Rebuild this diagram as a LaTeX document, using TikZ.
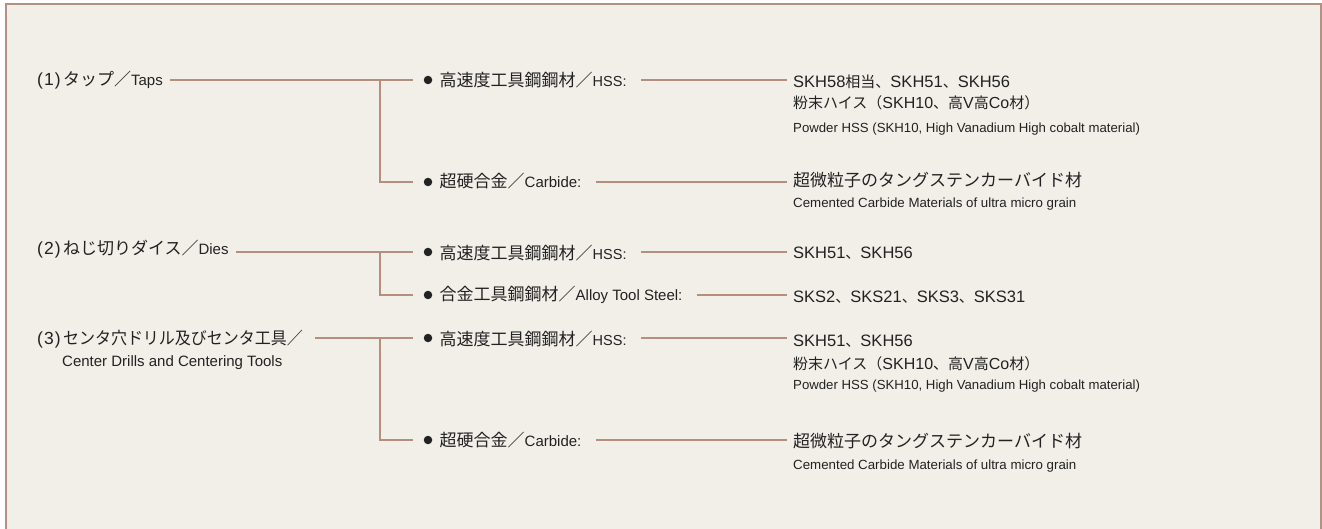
\documentclass[tikz,border=0pt]{standalone}
\usepackage{fontspec}
\setmainfont{Liberation Sans}
\newfontfamily\jpf{Noto Sans CJK JP}
\usetikzlibrary{calc}
\definecolor{bgc}{HTML}{F2EFE9}
\definecolor{frc}{HTML}{B39283}
\definecolor{lnc}{HTML}{B58F7D}
\definecolor{txc}{HTML}{222222}
\newcommand\J[2][17]{{\jpf\fontsize{#1}{#1}\selectfont #2}}
\newcommand\E[2][15]{{\fontsize{#1}{#1}\selectfont #2}}
\newcommand\NUM[1]{\E[17.5]{(\kern1pt#1\kern1pt)}\kern2.5pt}
\begin{document}
\begin{tikzpicture}[x=1pt,y=-1pt,
  txt/.style={anchor=base west,inner sep=0pt,text=txc},
  conn/.style={draw=lnc,line width=1.4pt},
  bul/.style={circle,fill=txc,inner sep=0pt,minimum size=8.5pt},
  frame/.style={draw=frc,line width=2pt,line join=miter}]
\useasboundingbox (0,0) rectangle (1322,529);
\fill[white] (0,0) rectangle (1322,529);
\fill[bgc] (6,4) rectangle (1321,529);
\draw[frame] (6,530) -- (6,4) -- (1321,4) -- (1321,530);
% branch x
\coordinate (k) at (380,0);
% ---------- row 1
\node[bul] (b11) at (428,80) {};
\node[bul] (b12) at (428,182) {};
\node[txt] (taps) at (37,85.5) {\NUM{1}\J{タップ／}\E{Taps}};
\node[txt] (hss1) at (439.5,86.7) {\J{高速度工具鋼鋼材／}\E[14.5]{HSS:}};
\node[txt] (carb1) at (439.5,187.7) {\J{超硬合金／}\E{Carbide:}};
\node[txt] (r1a) at (793,87.3) {\E[16.5]{SKH58}\J[15]{相当、}\E[16.5]{SKH51}\J[15]{、}\E[16.5]{SKH56}};
\node[txt] (r1b) at (793,108.3) {\J[15]{粉末ハイス（}\E[16]{SKH10}\J[15]{、高}\E[16]{V}\J[15]{高}\E[16]{Co}\J[15]{材）}};
\node[txt] (r1c) at (793,133) {\E[13.2]{Powder HSS (SKH10, High Vanadium High cobalt material)}};
\node[txt] (r1d) at (793,187) {\J[17]{超微粒子のタングステンカーバイド材}};
\node[txt] (r1e) at (793,207.7) {\E[13.3]{Cemented Carbide Materials of ultra micro grain}};
% ---------- row 2
\node[bul] (b21) at (428,252) {};
\node[bul] (b22) at (428,295) {};
\node[txt] (dies) at (37,255) {\NUM{2}\J{ねじ切りダイス／}\E{Dies}};
\node[txt] (hss2) at (439.5,259.5) {\J{高速度工具鋼鋼材／}\E[14.5]{HSS:}};
\node[txt] (alloy) at (439.5,300.7) {\J{合金工具鋼鋼材／}\E{Alloy Tool Steel:}};
\node[txt] (r2a) at (793,258.8) {\E[16.5]{SKH51}\J[15]{、}\E[16.5]{SKH56}};
\node[txt] (r2b) at (793,302.5) {\E[16.5]{SKS2}\J[15]{、}\E[16.5]{SKS21}\J[15]{、}\E[16.5]{SKS3}\J[15]{、}\E[16.5]{SKS31}};
% ---------- row 3
\node[bul] (b31) at (428,338) {};
\node[bul] (b32) at (428,440) {};
\node[txt] (ctr) at (37,344) {\NUM{3}\scalebox{0.94}[1]{\J{センタ穴ドリル及びセンタ工具／}}};
\node[txt] (ctrE) at (62,366) {\E{Center Drills and Centering Tools}};
\node[txt] (hss3) at (439.5,345) {\J{高速度工具鋼鋼材／}\E[14.5]{HSS:}};
\node[txt] (carb3) at (439.5,446.7) {\J{超硬合金／}\E{Carbide:}};
\node[txt] (r3a) at (793,346) {\E[16.5]{SKH51}\J[15]{、}\E[16.5]{SKH56}};
\node[txt] (r3b) at (793,369) {\J[15]{粉末ハイス（}\E[16]{SKH10}\J[15]{、高}\E[16]{V}\J[15]{高}\E[16]{Co}\J[15]{材）}};
\node[txt] (r3c) at (793,389.5) {\E[13.2]{Powder HSS (SKH10, High Vanadium High cobalt material)}};
\node[txt] (r3d) at (793,447) {\J[17]{超微粒子のタングステンカーバイド材}};
\node[txt] (r3e) at (793,469.3) {\E[13.3]{Cemented Carbide Materials of ultra micro grain}};
% ---------- connectors
\draw[conn] ($(taps.east |- b11)+(7,0)$) -- ($(b11.west)+(-11,0)$);
\draw[conn] (k |- b11) |- ($(b12.west)+(-11,0)$);
\draw[conn] ($(hss1.east |- b11)+(14,0)$) -- ($(r1a.west |- b11)+(-6,0)$);
\draw[conn] ($(carb1.east |- b12)+(14,0)$) -- ($(r1d.west |- b12)+(-6,0)$);
\draw[conn] ($(dies.east |- b21)+(7,0)$) -- ($(b21.west)+(-11,0)$);
\draw[conn] (k |- b21) |- ($(b22.west)+(-11,0)$);
\draw[conn] ($(hss2.east |- b21)+(14,0)$) -- ($(r2a.west |- b21)+(-6,0)$);
\draw[conn] ($(alloy.east |- b22)+(14,0)$) -- ($(r2b.west |- b22)+(-6,0)$);
\draw[conn] ($(ctr.east |- b31)+(12,0)$) -- ($(b31.west)+(-11,0)$);
\draw[conn] (k |- b31) |- ($(b32.west)+(-11,0)$);
\draw[conn] ($(hss3.east |- b31)+(14,0)$) -- ($(r3a.west |- b31)+(-6,0)$);
\draw[conn] ($(carb3.east |- b32)+(14,0)$) -- ($(r3d.west |- b32)+(-6,0)$);
\end{tikzpicture}
\end{document}
